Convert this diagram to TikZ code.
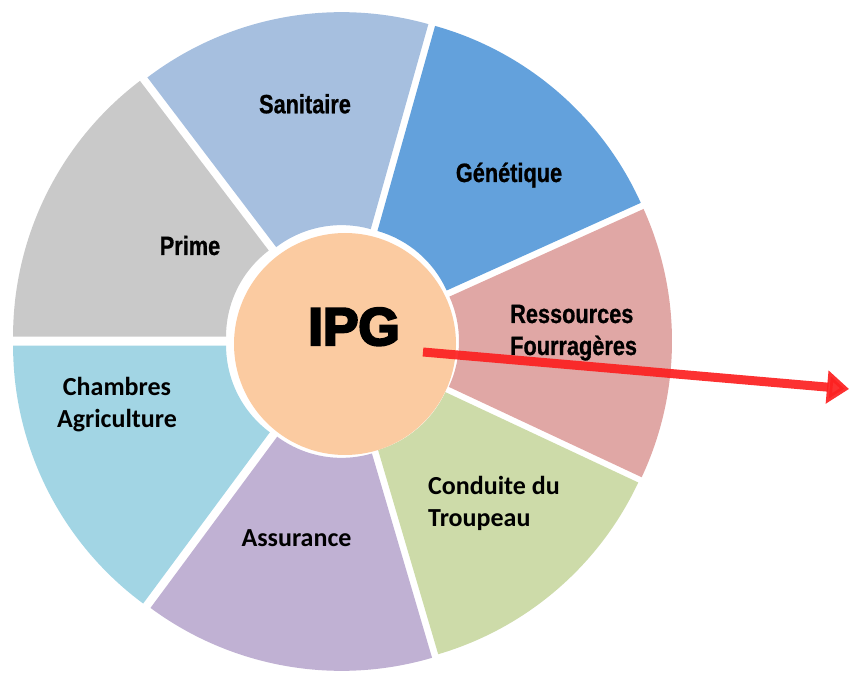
\documentclass[tikz,border=0pt]{standalone}
\usepackage{fontspec}
\usetikzlibrary{arrows.meta}
\newfontfamily\narrowbf{Liberation Sans}[FakeStretch=0.82,FakeBold=0.8]
\newfontfamily\calib{Carlito}
\newfontfamily\ipgfont{Liberation Sans}[FakeBold=4.5]
\definecolor{cPrime}{RGB}{201,201,201}
\definecolor{cSan}{RGB}{166,191,223}
\definecolor{cGen}{RGB}{99,161,220}
\definecolor{cRes}{RGB}{224,167,165}
\definecolor{cCon}{RGB}{205,219,169}
\definecolor{cAss}{RGB}{192,177,211}
\definecolor{cCha}{RGB}{162,213,228}
\definecolor{cCenter}{RGB}{251,203,161}
\definecolor{cArrow}{RGB}{252,32,32}
\tikzset{
  narrowlabel/.style={inner sep=0pt, font={\narrowbf\bfseries\fontsize{26.5}{32}\selectfont}},
  caliblabel/.style={inner sep=0pt, font={\calib\bfseries\fontsize{26}{32}\selectfont}},
  redarrow/.style={draw=cArrow, line width=9pt, opacity=0.92, -{Triangle[length=22pt,width=32pt]}}
}
\begin{document}
\begin{tikzpicture}[x=1pt,y=1pt]
\useasboundingbox (0,0) rectangle (850,675);
% segments of the ring
\foreach \a/\b/\col/\d in {127.2/180/cPrime/10, 74.3/127.2/cSan/8, 24.3/74.3/cGen/8, -25.1/24.3/cRes/8, -73.6/-25.1/cCon/7, -126.5/-73.6/cAss/9, -180/-126.5/cCha/10}{
  \pgfmathsetmacro\m{(\a+\b)/2}
  \begin{scope}[shift={(343pt,334pt)}, shift={(\m:\d pt)}]
    \fill[\col] (\a:108pt) arc[start angle=\a, end angle=\b, radius=108pt]
      -- (\b:321pt) arc[start angle=\b, end angle=\a, radius=321pt] -- cycle;
  \end{scope}
}
% centre
\node[circle, fill=cCenter, minimum size=222pt, inner sep=0pt] (centre) at (345,331) {};
\node[inner sep=0pt, anchor=base, font={\ipgfont\bfseries\fontsize{53}{60}\selectfont}] (ipg) at (354,330) {IPG};
% labels
\node[narrowlabel, anchor=base] (sanitaire) at (305,561.7) {Sanitaire};
\node[narrowlabel, anchor=base] (genetique) at (509,493) {Génétique};
\node[narrowlabel, anchor=base] (prime) at (190,420) {Prime};
\node[narrowlabel, anchor=base west, align=left] (ressources) at (510,320) {Ressources\\Fourragères};
\node[caliblabel, anchor=base west, align=left] (conduite) at (428,148.5) {Conduite du\\Troupeau};
\node[caliblabel, anchor=base] (assurance) at (296.5,128.3) {Assurance};
\node[caliblabel, anchor=base, align=center] (chambres) at (117,248) {Chambres\\Agriculture};
% arrow
\coordinate (astart) at (423,323);
\coordinate (aend) at (849,286);
\draw[redarrow] (astart) -- (aend);
\end{tikzpicture}
\end{document}
